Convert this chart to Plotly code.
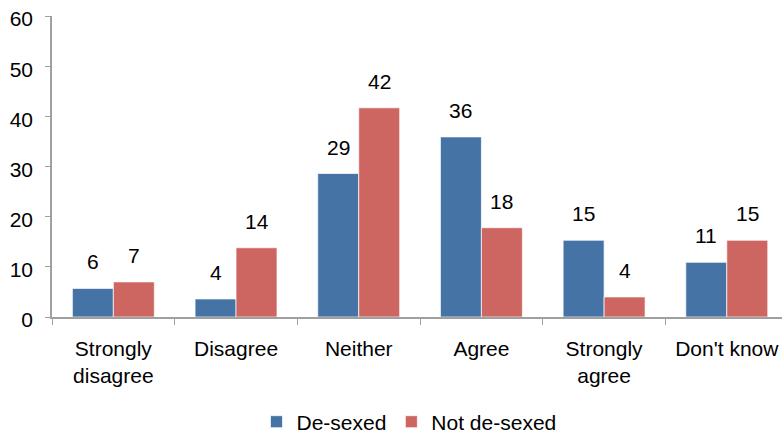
import plotly.graph_objects as go

categories = ["Strongly<br>disagree", "Disagree", "Neither", "Agree", "Strongly<br>agree", "Don't know"]
desexed = [5.7, 3.6, 28.6, 35.9, 15.3, 10.9]
not_desexed = [7.0, 13.8, 41.7, 17.8, 4.0, 15.3]
desexed_labels = ["6", "4", "29", "36", "15", "11"]
not_desexed_labels = ["7", "14", "42", "18", "4", "15"]
y_ticks = [0, 10, 20, 30, 40, 50, 60]

BLUE = "#4573A5"
RED = "#CD6661"
FONT = "Liberation Sans, Arial, sans-serif"
FS = 21

fig = go.Figure()
fig.add_bar(x=categories, y=desexed, name="De-sexed", marker=dict(color=BLUE, line=dict(color="rgba(255,255,255,0.7)", width=1)))
fig.add_bar(x=categories, y=not_desexed, name="Not de-sexed", marker=dict(color=RED, line=dict(color="rgba(255,255,255,0.7)", width=1)))

ann = []
for i, c in enumerate(categories):
    for vals, labs, shift in ((desexed, desexed_labels, -20.5), (not_desexed, not_desexed_labels, 20.5)):
        ann.append(dict(x=c, y=vals[i], text=labs[i], showarrow=False, xshift=shift, yshift=13,
                        yanchor="bottom", font=dict(size=FS, color="black", family=FONT)))

fig.update_layout(
    width=782, height=443,
    margin=dict(l=52, r=0, t=16, b=119),
    paper_bgcolor="white", plot_bgcolor="white",
    barmode="group", bargap=0.332, bargroupgap=0,
    font=dict(family=FONT, size=FS, color="black"),
    annotations=ann,
    showlegend=True,
    legend=dict(orientation="h", x=0.489, xanchor="center", y=-0.349, yanchor="middle",
                font=dict(size=FS), itemwidth=30, traceorder="normal"),
    xaxis=dict(range=[-0.5, 5.45], showline=True, linecolor="#A0A0A0", linewidth=1.5,
               ticks="outside", tickson="boundaries", ticklen=6, tickcolor="#A0A0A0",
               showgrid=False, tickfont=dict(size=FS), ticklabelstandoff=12),
    yaxis=dict(range=[0, 60], tickvals=y_ticks, showline=True, linecolor="#A0A0A0", linewidth=1.5,
               ticks="outside", ticklen=5, tickcolor="#A0A0A0", showgrid=False, zeroline=False,
               tickfont=dict(size=FS), ticklabelstandoff=8, ticklabelshift=3),
)

fig.write_html("out.html")
